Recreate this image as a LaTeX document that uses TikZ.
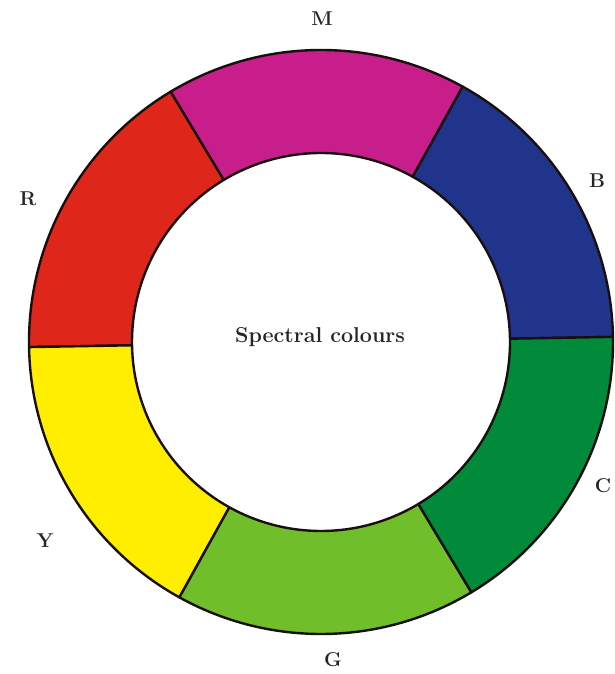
\documentclass[tikz,border=0pt]{standalone}
\usepackage{fontspec}
\definecolor{cM}{RGB}{200,30,140}
\definecolor{cB}{RGB}{32,52,140}
\definecolor{cC}{RGB}{0,138,58}
\definecolor{cG}{RGB}{112,190,42}
\definecolor{cY}{RGB}{255,238,0}
\definecolor{cR}{RGB}{222,38,26}
\definecolor{edge}{RGB}{25,15,15}
\begin{document}
\begin{tikzpicture}[x=1pt,y=1pt,
  seg/.style={draw=edge,line width=2.4pt,line join=round},
  lab/.style={font=\fontsize{20}{24}\selectfont\bfseries,text=black!85}]
\useasboundingbox (0,0) rectangle (615,674);
\fill[white] (0,0) rectangle (615,674);
\def\Ro{292}\def\Ri{189}
\begin{scope}[shift={(321,332)}]
\foreach \a/\c in {1/cB,61/cM,121/cR,181/cY,241/cG,301/cC}{
  \pgfmathsetmacro\b{\a+60}
  \filldraw[seg,fill=\c] (\a:\Ro) arc[start angle=\a,end angle=\b,radius=\Ro]
    -- (\b:\Ri) arc[start angle=\b,end angle=\a,radius=\Ri] -- cycle;
}
\end{scope}
\node[lab] (m) at (322,655) {M};
\node[lab] (b) at (597,493) {B};
\node[lab] (r) at (28,475) {R};
\node[lab] (y) at (45,133) {Y};
\node[lab] (c) at (603,188) {C};
\node[lab] (g) at (333,14) {G};
\node[font=\fontsize{21.5}{26}\selectfont\bfseries,text=black!85] (t) at (320,337) {Spectral colours};
\end{tikzpicture}
\end{document}
